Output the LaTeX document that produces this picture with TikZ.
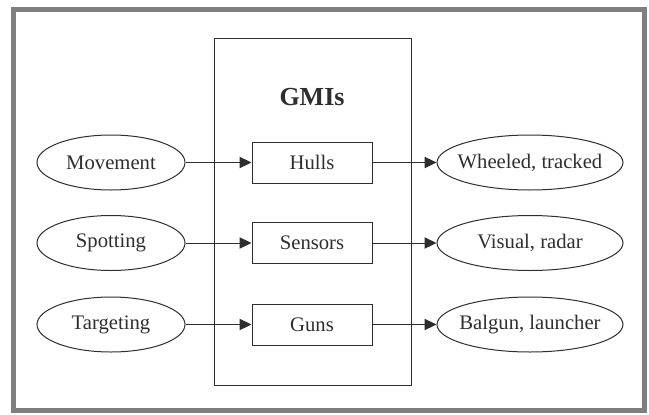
\documentclass[tikz,border=0pt]{standalone}
\usepackage{fontspec}
\setmainfont{Liberation Serif}
\usetikzlibrary{arrows.meta,shapes.geometric}
\definecolor{ink}{HTML}{2E2E2E}
\definecolor{framegray}{HTML}{7F7F7F}
\begin{document}
\begin{tikzpicture}[x=0.75pt,y=-0.75pt,
  every node/.style={font=\fontsize{15.5}{17}\selectfont, text=ink},
  oval/.style={draw=ink, line width=0.75pt, ellipse, inner xsep=-30pt, inner ysep=0pt, minimum height=55*0.75pt},
  leftoval/.style={oval, minimum width=148*0.75pt},
  rightoval/.style={oval, minimum width=186*0.75pt},
  partbox/.style={draw=ink, line width=0.75pt, rectangle, inner sep=0pt, minimum width=120*0.75pt, minimum height=41*0.75pt},
  bigbox/.style={draw=ink, line width=0.75pt, rectangle, inner sep=0pt, minimum width=197*0.75pt, minimum height=347*0.75pt},
  conn/.style={draw=ink, line width=0.75pt, -{Triangle[length=9pt,width=8.5pt]}}
]
\useasboundingbox (0,0) rectangle (649,414);
\draw[framegray, line width=3.75pt] (13.5,9.5) rectangle (644.5,410.5);
\node[bigbox] (gmi) at (312.5,211.5) {};
\node[font=\fontsize{19.5}{21}\selectfont\bfseries] (title) at (312,97) {GMIs};
\node[partbox] (hulls) at (312,162.5) {Hulls};
\node[partbox] (sensors) at (312,243) {Sensors};
\node[partbox] (guns) at (312,324.5) {Guns};
\node[leftoval] (move) at (111,162.5) {Movement};
\node[leftoval] (spot) at (111,243) {Spotting};
\node[leftoval] (targ) at (111,324.5) {Targeting};
\node[rightoval] (wheel) at (530,162.5) {Wheeled, tracked};
\node[rightoval] (visual) at (530,243) {Visual, radar};
\node[rightoval] (balgun) at (530,324.5) {Balgun, launcher};
\draw[conn] (move) -- (hulls);
\draw[conn] (spot) -- (sensors);
\draw[conn] (targ) -- (guns);
\draw[conn] (hulls) -- (wheel);
\draw[conn] (sensors) -- (visual);
\draw[conn] (guns) -- (balgun);
\end{tikzpicture}
\end{document}
